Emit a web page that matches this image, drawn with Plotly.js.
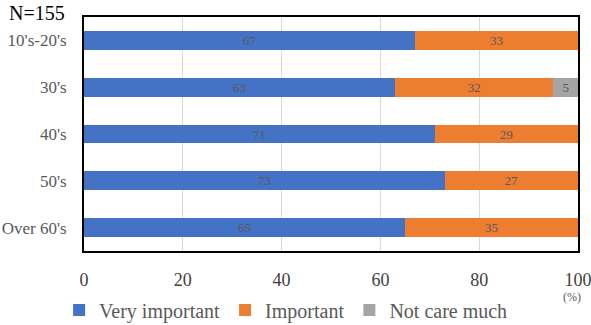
<!DOCTYPE html>
<html>
<head>
<meta charset="utf-8">
<script src="https://cdn.plot.ly/plotly-3.0.1.min.js"></script>
<style>
  html, body { margin: 0; padding: 0; background: #fff; }
  #chart { width: 591px; height: 325px; }
</style>
</head>
<body>
<div id="chart"></div>
<script>
// Age groups, top to bottom
const ageGroups = ["10's-20's", "30's", "40's", "50's", "Over 60's"];
// Share of respondents (%) per answer
const veryImportant = [67, 63, 71, 73, 65];
const important = [33, 32, 29, 27, 35];
const notCareMuch = [0, 5, 0, 0, 0];
const seriesNames = ["Very important", "Important", "Not care much"];
const xTicks = [0, 20, 40, 60, 80, 100];

const colors = ["#4472C4", "#ED7D31", "#A5A5A5"];
const serif = "Liberation Serif";

function makeTrace(values, name, color) {
  return {
    type: "bar",
    orientation: "h",
    name: name,
    y: ageGroups,
    x: values,
    marker: { color: color },
    text: values.map(v => v > 0 ? String(v) : ""),
    textposition: "inside",
    insidetextanchor: "middle",
    constraintext: "none",
    textangle: 0,
    textfont: { family: serif, size: 13, color: "#595959" },
    hoverinfo: "skip"
  };
}

const data = [
  makeTrace(veryImportant, seriesNames[0], colors[0]),
  makeTrace(important, seriesNames[1], colors[1]),
  makeTrace(notCareMuch, seriesNames[2], colors[2])
];

const layout = {
  width: 591,
  height: 325,
  margin: { l: 84, r: 13, t: 17, b: 74 },
  barmode: "stack",
  bargap: 0.6,
  paper_bgcolor: "#fff",
  plot_bgcolor: "#fff",
  font: { family: serif, color: "#595959" },
  showlegend: true,
  legend: {
    orientation: "h",
    xref: "container", yref: "container",
    x: 0.1, xanchor: "left",
    y: 0.046, yanchor: "middle",
    font: { family: serif, size: 20, color: "#595959" },
    itemwidth: 30,
    traceorder: "normal"
  },
  xaxis: {
    range: [0, 100],
    tickvals: xTicks,
    ticktext: xTicks.map(String),
    tickfont: { family: serif, size: 18, color: "#404040" },
    ticklabeloverflow: "allow",
    showgrid: true,
    gridcolor: "#d9d9d9",
    gridwidth: 1,
    zeroline: false,
    showline: true,
    linecolor: "#000",
    linewidth: 2,
    mirror: true,
    ticks: "",
    ticklabelstandoff: 11,
    fixedrange: true
  },
  yaxis: {
    type: "category",
    categoryorder: "array",
    categoryarray: ageGroups,
    autorange: "reversed",
    tickfont: { family: serif, size: 17, color: "#595959" },
    showline: true,
    linecolor: "#000",
    linewidth: 2,
    mirror: true,
    ticks: "",
    ticklabelstandoff: 12,
    fixedrange: true
  },
  annotations: [
    {
      text: "N=155",
      xref: "paper", yref: "paper",
      x: -0.155, xanchor: "left",
      y: 1.0, yanchor: "bottom",
      yshift: -9,
      showarrow: false,
      font: { family: serif, size: 20, color: "#000" }
    },
    {
      text: "(%)",
      xref: "paper", yref: "paper",
      x: 0.988, xanchor: "center",
      y: -0.197, yanchor: "middle",
      showarrow: false,
      font: { family: serif, size: 12, color: "#595959" }
    }
  ]
};

Plotly.newPlot("chart", data, layout, { displayModeBar: false, staticPlot: true });
</script>
</body>
</html>
